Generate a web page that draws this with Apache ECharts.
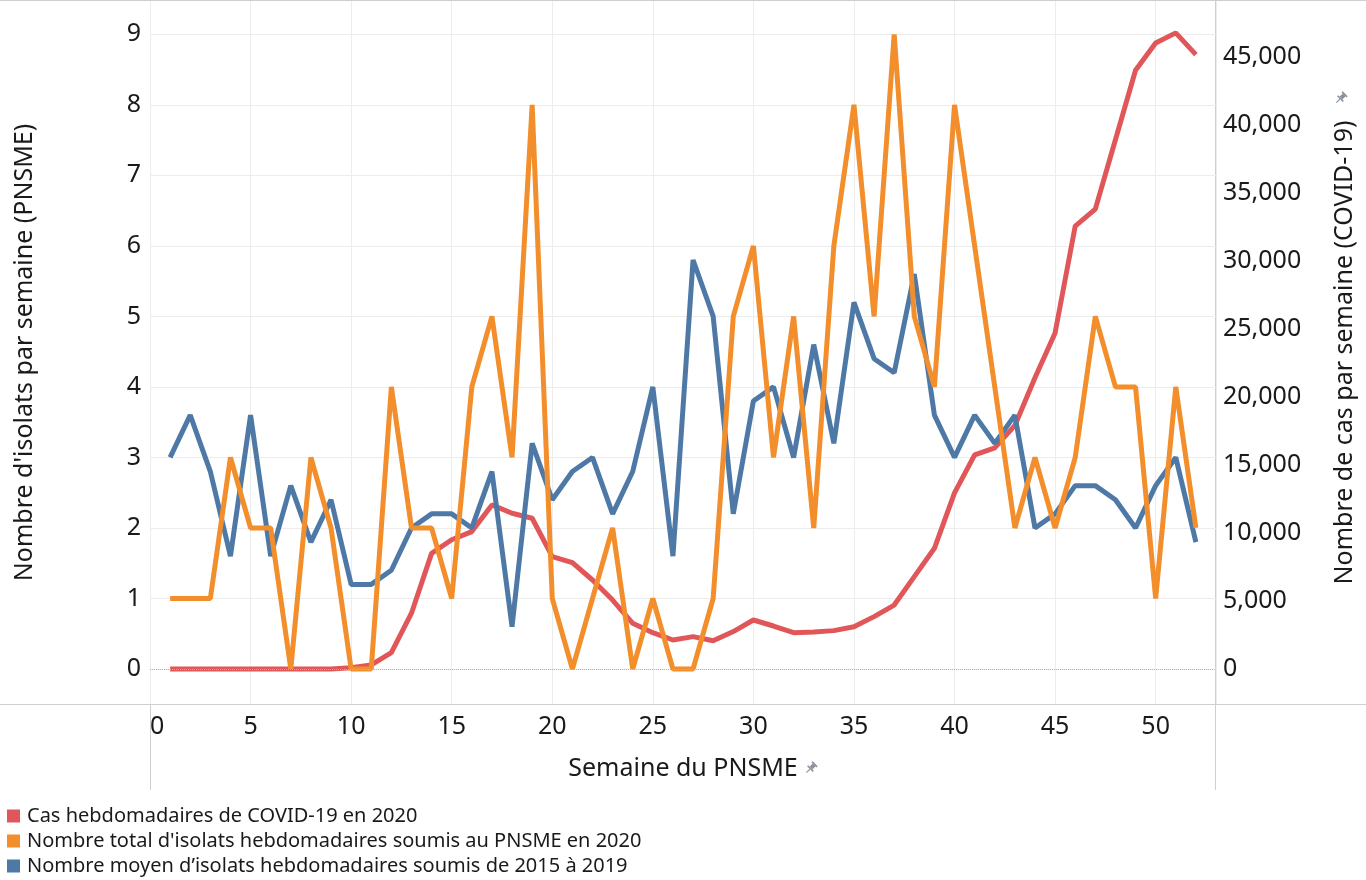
<!DOCTYPE html>
<html><head><meta charset="utf-8">
<script src="https://cdn.jsdelivr.net/npm/echarts@6/dist/echarts.min.js"></script>
<style>html,body{margin:0;padding:0;background:#fff}#c{width:1366px;height:880px}</style>
</head><body><div id="c"></div>
<script>
const weeks = [1,2,3,4,5,6,7,8,9,10,11,12,13,14,15,16,17,18,19,20,21,22,23,24,25,26,27,28,29,30,31,32,33,34,35,36,37,38,39,40,41,42,43,44,45,46,47,48,49,50,51,52];
const covidCases = [0,0,0,0,0,0,0,0,0,100,300,1200,4100,8500,9500,10100,12060,11450,11080,8260,7820,6540,5070,3360,2670,2130,2380,2080,2750,3600,3160,2670,2720,2820,3110,3850,4700,6790,8870,12940,15740,16250,17900,21400,24700,32550,33800,38900,44000,46000,46750,45150];
const isolates2020 = [1,1,1,3,2,2,0,3,2,0,0,4,2,2,1,4,5,3,8,1,0,1,2,0,1,0,0,1,5,6,3,5,2,6,8,5,9,5,4,8,6,4,2,3,2,3,5,4,4,1,4,2];
const isolatesAvg = [3.0,3.6,2.8,1.6,3.6,1.6,2.6,1.8,2.4,1.2,1.2,1.4,2.0,2.2,2.2,2.0,2.8,0.6,3.2,2.4,2.8,3.0,2.2,2.8,4.0,1.6,5.8,5.0,2.2,3.8,4.0,3.0,4.6,3.2,5.2,4.4,4.2,5.6,3.6,3.0,3.6,3.2,3.6,2.0,2.2,2.6,2.6,2.4,2.0,2.6,3.0,1.8];
const leftTicks = [0,1,2,3,4,5,6,7,8,9];
const rightTicks = [0,5000,10000,15000,20000,25000,30000,35000,40000,45000];
const seriesNames = ['Cas hebdomadaires de COVID-19 en 2020', "Nombre total d'isolats hebdomadaires soumis au PNSME en 2020", 'Nombre moyen d\u2019isolats hebdomadaires soumis de 2015 à 2019'];
const colors = ['#e15759', '#f28e2b', '#4e79a7'];
const xTitle = 'Semaine du PNSME';
const leftTitle = "Nombre d'isolats par semaine (PNSME)";
const rightTitle = 'Nombre de cas par semaine (COVID-19)';

const pair = arr => weeks.map((w, i) => [w, arr[i]]);
const FONT = 'Noto Sans';
const TXT = '#1a1a1a';
const BORDER = '#cfcfcf';

function pin(x, y) {
  return {
    type: 'group', x: x, y: y, rotation: -Math.PI / 4, silent: true,
    children: [
      { type: 'rect', shape: { x: -3.5, y: -6, width: 7, height: 1.8 }, style: { fill: '#8c939a' } },
      { type: 'rect', shape: { x: -2, y: -4.5, width: 4, height: 4.5 }, style: { fill: '#8c939a' } },
      { type: 'rect', shape: { x: -4, y: 0, width: 8, height: 1.6 }, style: { fill: '#8c939a' } },
      { type: 'line', shape: { x1: 0, y1: 1.5, x2: 0, y2: 6.5 }, style: { stroke: '#8c939a', lineWidth: 1.2 } }
    ]
  };
}

const chart = echarts.init(document.getElementById('c'), null, { renderer: 'canvas' });
chart.setOption({
  animation: false,
  backgroundColor: '#fff',
  textStyle: { fontFamily: FONT, color: TXT },
  grid: { left: 150, right: 150, top: 1, bottom: 176, containLabel: false },
  legend: {
    orient: 'vertical', left: 7, top: 806, height: 80, padding: 0,
    itemWidth: 13, itemHeight: 13, itemGap: 5,
    icon: 'rect', data: seriesNames,
    textStyle: { fontFamily: FONT, fontSize: 20, color: TXT, lineHeight: 20, padding: [0, 0, 0, 2] }
  },
  xAxis: {
    type: 'value', min: 0, max: 53, interval: 5,
    name: xTitle, nameLocation: 'middle', nameGap: 52,
    nameTextStyle: { fontFamily: FONT, fontSize: 25, color: TXT },
    axisLine: { show: false }, axisTick: { show: false },
    axisLabel: { fontFamily: FONT, fontSize: 25, color: TXT, margin: 10, showMaxLabel: false, alignMinLabel: 'left' },
    splitLine: { show: true, lineStyle: { color: '#ececec', width: 1 } }
  },
  yAxis: [
    {
      type: 'value', position: 'left', min: -0.4963, max: 9.4725,
      name: leftTitle, nameLocation: 'middle', nameGap: 113,
      nameTextStyle: { fontFamily: FONT, fontSize: 25, color: TXT },
      axisLine: { show: false },
      axisTick: { show: false, customValues: leftTicks },
      axisLabel: { fontFamily: FONT, fontSize: 25, color: TXT, margin: 9, customValues: leftTicks },
      splitLine: { show: true, lineStyle: { color: '#ececec', width: 1 } }
    },
    {
      type: 'value', position: 'right', min: -2572, max: 49092,
      name: rightTitle, nameLocation: 'middle', nameGap: 116,
      nameTextStyle: { fontFamily: FONT, fontSize: 25, color: TXT },
      axisLine: { show: false },
      axisTick: { show: false, customValues: rightTicks },
      axisLabel: { fontFamily: FONT, fontSize: 25, color: TXT, margin: 7, customValues: rightTicks,
        formatter: v => Number(v).toLocaleString('en-US') },
      splitLine: { show: false }
    }
  ],
  series: [
    {
      type: 'line', name: '__zero', yAxisIndex: 0, data: [], z: 1, silent: true,
      markLine: { silent: true, symbol: ['none', 'none'], label: { show: false },
        lineStyle: { type: 'dotted', color: '#b5b5b5', width: 1 }, data: [{ yAxis: 0 }] }
    },
    { type: 'line', name: seriesNames[0], yAxisIndex: 1, data: pair(covidCases), showSymbol: false, z: 2,
      lineStyle: { color: colors[0], width: 5 }, itemStyle: { color: colors[0] } },
    { type: 'line', name: seriesNames[2], yAxisIndex: 0, data: pair(isolatesAvg), showSymbol: false, z: 3,
      lineStyle: { color: colors[2], width: 5 }, itemStyle: { color: colors[2] } },
    { type: 'line', name: seriesNames[1], yAxisIndex: 0, data: pair(isolates2020), showSymbol: false, z: 4,
      lineStyle: { color: colors[1], width: 5 }, itemStyle: { color: colors[1] } }
  ],
  graphic: [
    { type: 'line', silent: true, shape: { x1: 0, y1: 0.5, x2: 1366, y2: 0.5 }, style: { stroke: BORDER, lineWidth: 1 } },
    { type: 'line', silent: true, shape: { x1: 0, y1: 704.5, x2: 1366, y2: 704.5 }, style: { stroke: BORDER, lineWidth: 1 } },
    { type: 'line', silent: true, shape: { x1: 150.5, y1: 0, x2: 150.5, y2: 790 }, style: { stroke: BORDER, lineWidth: 1 } },
    { type: 'line', silent: true, shape: { x1: 1215.5, y1: 0, x2: 1215.5, y2: 790 }, style: { stroke: BORDER, lineWidth: 1 } },
    pin(811, 768),
    pin(1341, 98)
  ]
});
</script></body></html>
